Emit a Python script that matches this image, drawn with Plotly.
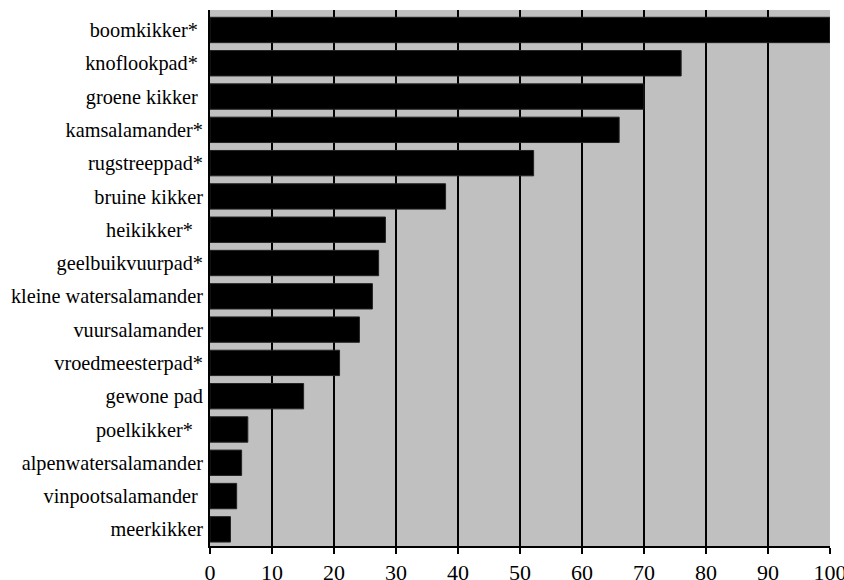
import plotly.graph_objects as go

species = [
    "boomkikker*", "knoflookpad*", "groene kikker", "kamsalamander*",
    "rugstreeppad*", "bruine kikker", "heikikker*", "geelbuikvuurpad*",
    "kleine watersalamander", "vuursalamander", "vroedmeesterpad*",
    "gewone pad", "poelkikker*", "alpenwatersalamander",
    "vinpootsalamander", "meerkikker",
]
values = [100, 76, 70, 66, 52.2, 38, 28.3, 27.2, 26.2, 24.1, 20.9, 15.1, 6.1, 5.1, 4.3, 3.3]
# tick labels as printed in the source (some carry trailing spaces)
tick_labels = [
    "boomkikker*\u00a0", "knoflookpad*\u00a0", "groene kikker\u00a0", "kamsalamander*",
    "rugstreeppad*", "bruine kikker", "heikikker*\u00a0\u00a0", "geelbuikvuurpad*",
    "kleine watersalamander", "vuursalamander", "vroedmeesterpad*",
    "gewone pad", "poelkikker*\u00a0\u00a0", "alpenwatersalamander",
    "vinpootsalamander\u00a0", "meerkikker",
]
x_ticks = [0, 10, 20, 30, 40, 50, 60, 70, 80, 90, 100]

fig = go.Figure(
    go.Bar(
        x=values,
        y=species,
        orientation="h",
        marker=dict(color="#000000", line=dict(color="#222222", width=1)),
    )
)

font = dict(family="Liberation Serif", size=20.3, color="#000000")
xfont = dict(family="Liberation Serif", size=22, color="#000000")

fig.update_layout(
    width=844,
    height=580,
    margin=dict(l=210, r=14, t=10, b=34),
    paper_bgcolor="#ffffff",
    plot_bgcolor="#c0c0c0",
    bargap=0.238,
    showlegend=False,
    font=font,
)
fig.update_xaxes(
    range=[0, 100.01],
    tickvals=x_ticks,
    ticktext=[str(v) for v in x_ticks],
    showgrid=True,
    gridcolor="#000000",
    gridwidth=2,
    zeroline=False,
    showline=True,
    linecolor="#000000",
    linewidth=2,
    ticks="outside",
    ticklen=6,
    tickwidth=2,
    tickcolor="#000000",
    tickfont=xfont,
    ticklabeloverflow="allow",
    automargin=False,
    fixedrange=True,
)
fig.update_yaxes(
    range=[len(species) - 0.5, -0.6],
    tickvals=species,
    ticktext=tick_labels,
    showgrid=False,
    zeroline=False,
    showline=True,
    linecolor="#000000",
    linewidth=2,
    ticks="",
    ticklabelstandoff=1,
    tickfont=font,
    automargin=False,
    fixedrange=True,
)

fig.write_html(
    "out.html",
    config={"displayModeBar": False},
    post_script="document.body.style.margin='0';document.body.style.overflow='hidden';",
)
